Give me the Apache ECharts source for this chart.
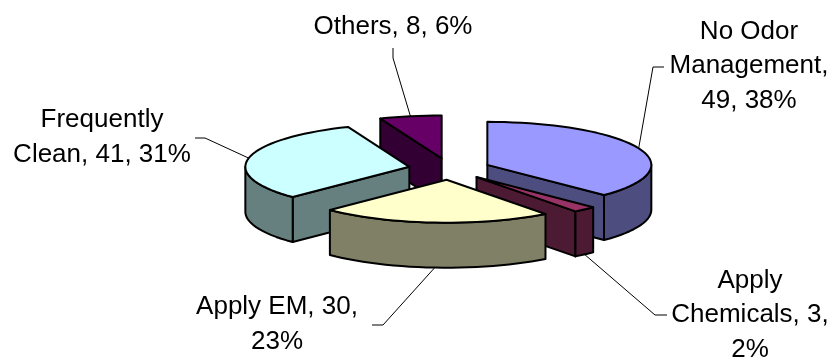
<!DOCTYPE html>
<html>
<head>
<meta charset="utf-8">
<script src="https://cdn.jsdelivr.net/npm/echarts@6/dist/echarts.min.js"></script>
<style>html,body{margin:0;padding:0;background:#fff}#c{width:832px;height:360px}</style>
</head>
<body>
<div id="c"></div>
<script>
// Data
var categories = ["No Odor Management", "Apply Chemicals", "Apply EM", "Frequently Clean", "Others"];
var values = [49, 3, 30, 41, 8];
var percents = [38, 2, 23, 31, 6];
var nameLines = [["No Odor", "Management,"], ["Apply", "Chemicals,"], ["Apply EM,"], ["Frequently", "Clean,"], ["Others,"]];
var breakAfterValue = [false, true, true, false, false];
var breakBeforeValue = [true, false, false, false, false];
// Styles
var topColors = ["#9999FF", "#993366", "#FFFFCC", "#CCFFFF", "#660066"];
var wallColors = ["#4D4D80", "#4D1A33", "#808066", "#668080", "#330033"];
// Layout of the pie
var CX = 449.5, CY = 169, RX = 164, RY = 43, DEPTH = 45, EXPLODE = 0.25;
// Layout of annotations: leader elbow [x1,y1,x2,y2], label centre
var leaderElbows = [[664,67,653,67],[667,315,655,315],[372,325,383,325],[195,138,205,138],[393,48,393,58]];
var labelCentres = [[749,66],[750,315],[277,324.5],[102,137.5],[393,27]];

var total = values.reduce(function (a, b) { return a + b; }, 0);
var starts = [], acc = 0;
values.forEach(function (v) { starts.push(acc / total * 360); acc += v; });
var rad = Math.PI / 180;
function pt(c, a, r) { return [c[0] + RX * r * Math.sin(a * rad), c[1] - RY * r * Math.cos(a * rad)]; }
function arc(c, a0, a1, dy) {
  var pts = [], n = Math.max(2, Math.ceil((a1 - a0) / 3));
  for (var i = 0; i <= n; i++) {
    var p = pt(c, a0 + (a1 - a0) * i / n, 1);
    pts.push([p[0], p[1] + dy]);
  }
  return pts;
}
function poly(points, fill) {
  return { type: 'polygon', shape: { points: points }, style: { fill: fill, stroke: '#000', lineWidth: 2, lineJoin: 'round' } };
}
function labelText(i) {
  var lines = nameLines[i].slice();
  var v = values[i] + ',', p = percents[i] + '%';
  if (breakAfterValue[i]) { lines[lines.length - 1] += ' ' + v; lines.push(p); }
  else if (breakBeforeValue[i]) { lines.push(v + ' ' + p); }
  else { lines[lines.length - 1] += ' ' + v + ' ' + p; }
  return lines.join('\n');
}
// back-to-front paint order, from each slice's mid angle
var dataRows = values.map(function (v, i) {
  var mid = starts[i] + v / total * 180;
  return { value: [i, v, mid, Math.cos(mid * rad)] };
}).sort(function (a, b) { return b.value[3] - a.value[3]; });

function renderItem(params, api) {
  var i = api.value(0), v = api.value(1), mid = api.value(2);
  var a0 = starts[i], a1 = a0 + v / total * 360;
  var c = pt([CX, CY], mid, EXPLODE);
  var kids = [], wall = wallColors[i];
  function radial(a) {
    var p = pt(c, a, 1);
    kids.push(poly([c, p, [p[0], p[1] + DEPTH], [c[0], c[1] + DEPTH]], wall));
  }
  if (Math.sin(a0 * rad) < -1e-6) radial(a0);
  if (Math.sin(a1 * rad) > 1e-6) radial(a1);
  var f0 = Math.max(a0, 90), f1 = Math.min(a1, 270);
  if (f1 > f0) {
    kids.push(poly(arc(c, f0, f1, 0).concat(arc(c, f0, f1, DEPTH).reverse()), wall));
  }
  kids.push(poly([c].concat(arc(c, a0, a1, 0)), topColors[i]));
  return { type: 'group', children: kids };
}
function renderLabel(params, api) {
  var i = api.value(0), mid = api.value(2);
  var c = pt([CX, CY], mid, EXPLODE), tip = pt(c, mid, 1);
  if (Math.cos(mid * rad) < 0) tip[1] += DEPTH;
  var e = leaderElbows[i], lc = labelCentres[i];
  return { type: 'group', children: [
    { type: 'polyline', shape: { points: [[e[0], e[1]], [e[2], e[3]], tip] }, style: { fill: null, stroke: '#000', lineWidth: 1 } },
    { type: 'text', style: { x: lc[0], y: lc[1], text: labelText(i), align: 'center', verticalAlign: 'middle',
        font: '26px "Liberation Sans", Arial, sans-serif', lineHeight: 34.5, fill: '#000' } }
  ] };
}
var chart = echarts.init(document.getElementById('c'));
chart.setOption({
  animation: false,
  backgroundColor: '#fff',
  series: [
    { type: 'custom', coordinateSystem: 'none', renderItem: renderItem, data: dataRows, z: 2, silent: true },
    { type: 'custom', coordinateSystem: 'none', renderItem: renderLabel, data: dataRows, z: 3, silent: true }
  ]
});
</script>
</body>
</html>
